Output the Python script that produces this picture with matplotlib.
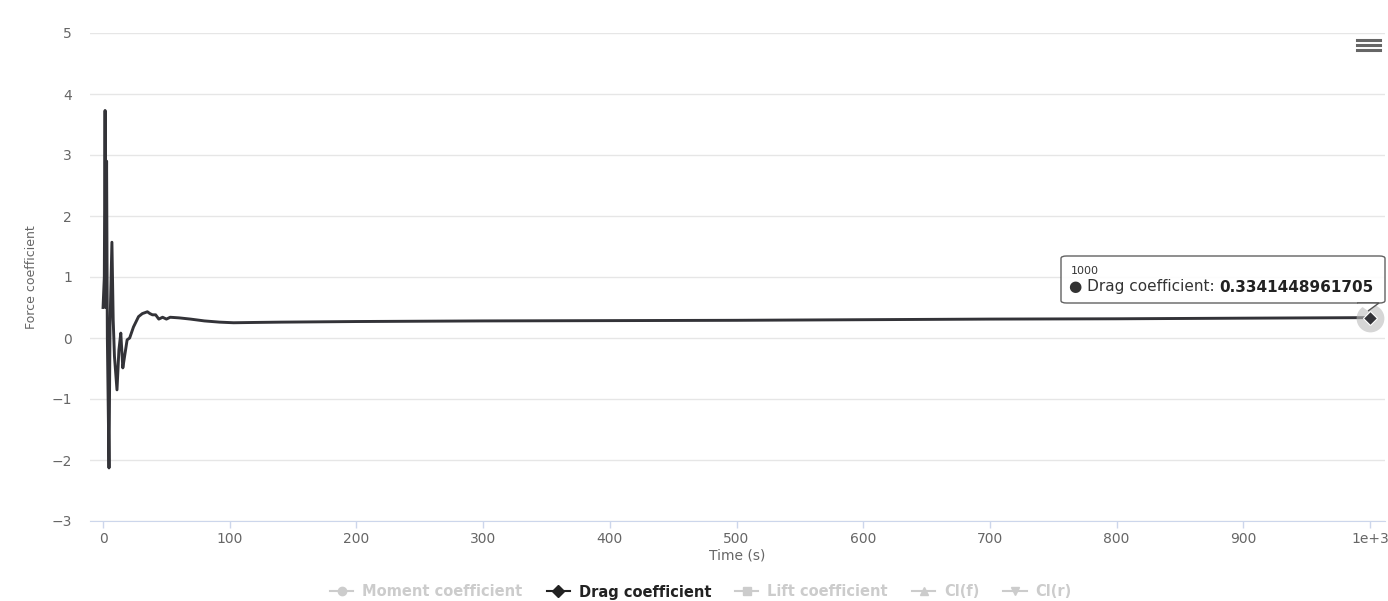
import matplotlib.pyplot as plt
import matplotlib.patches as mpatches
from matplotlib.lines import Line2D
from matplotlib.text import Annotation

# drag coefficient history
time = [0, 1, 1.6, 2.2, 2.8, 3.4, 4.7, 5.5, 7, 8, 9, 11, 12.5, 14, 15.6, 17,
        19, 21, 24, 28, 31, 35, 37, 39, 41.5, 44, 47, 50, 53, 60, 69, 80, 92,
        103, 120, 140, 200, 300, 400, 500, 600, 700, 800, 900, 1000]
drag = [0.5, 1.0, 3.73, 0.5, 2.9, 0.0, -2.13, 0.2, 1.57, 0.3, -0.3, -0.85,
        -0.2, 0.08, -0.49, -0.3, -0.03, 0.0, 0.18, 0.35, 0.40, 0.43, 0.40,
        0.38, 0.38, 0.31, 0.34, 0.31, 0.34, 0.33, 0.31, 0.28, 0.26, 0.25,
        0.255, 0.26, 0.27, 0.28, 0.285, 0.29, 0.30, 0.31, 0.315, 0.325,
        0.3341448961705]

xticks = [0, 100, 200, 300, 400, 500, 600, 700, 800, 900, 1000]
xtick_labels = ['0', '100', '200', '300', '400', '500', '600', '700', '800',
                '900', '1e+3']
yticks = [-3, -2, -1, 0, 1, 2, 3, 4, 5]

series_names = ['Moment coefficient', 'Drag coefficient', 'Lift coefficient',
                'Cl(f)', 'Cl(r)']
series_markers = ['o', 'D', 's', '^', 'v']
series_visible = [False, True, False, False, False]

line_col = '#333338'
grid_col = '#e6e6e6'
axis_col = '#ccd6eb'
label_col = '#666666'

plt.rcParams['font.family'] = ['DejaVu Sans']

fig = plt.figure(figsize=(13.88, 6.01), dpi=100)
ax = fig.add_axes([90 / 1388, 1 - 521 / 601, 1295 / 1388, 488 / 601])

ax.plot(time, drag, color=line_col, lw=2.1, solid_joinstyle='round', zorder=3)
# hovered point
ax.plot(time[-1], drag[-1], 'o', ms=20, color='#bbbbbb', alpha=0.6,
        mec='none', zorder=4)
ax.plot(time[-1], drag[-1], 'D', ms=7, color=line_col, mec='white',
        mew=0.8, zorder=5)

ax.set_xlim(-10.3, 1011.8)
ax.set_ylim(-3, 5)
ax.set_yticks(yticks)
ax.set_yticklabels([str(v).replace('-', '\u2212') for v in yticks])
ax.set_xticks(xticks)
ax.set_xticklabels(xtick_labels)

ax.grid(axis='y', color=grid_col, lw=1)
ax.set_axisbelow(True)
for s in ['top', 'right', 'left']:
    ax.spines[s].set_visible(False)
ax.spines['bottom'].set_color(axis_col)
ax.spines['bottom'].set_zorder(2)
ax.tick_params(axis='x', colors=axis_col, length=5, width=1, pad=3,
               labelcolor=label_col, labelsize=10)
ax.tick_params(axis='y', length=0, pad=13, labelcolor=label_col,
               labelsize=10)

ax.set_xlabel('Time (s)', color=label_col, fontsize=10, labelpad=2)
fig.text(32 / 1388, 1 - 277 / 601, 'Force coefficient', rotation=90,
         color=label_col, fontsize=9, ha='center', va='center')

# legend
handles = []
for name, m, vis in zip(series_names, series_markers, series_visible):
    c = '#222222' if vis else '#cccccc'
    handles.append(Line2D([], [], color=c, marker=m, ms=6, lw=1.5))
leg = fig.legend(handles, series_names, loc='center', ncol=5,
                 bbox_to_anchor=(0.505, 1 - 592 / 601), frameon=False,
                 handlelength=1.6, columnspacing=1.65, handletextpad=0.6,
                 prop={'weight': 'bold', 'size': 10.5})
for txt, vis in zip(leg.get_texts(), series_visible):
    txt.set_color('#222222' if vis else '#cccccc')

# tooltip
box = mpatches.FancyBboxPatch((1061 / 1388, 1 - 303 / 601), 324 / 1388,
                              47 / 601,
                              boxstyle='round,pad=0,rounding_size=0.004',
                              transform=fig.transFigure, fc='white',
                              ec='#555555', lw=1.0, alpha=0.92, zorder=10)
fig.add_artist(box)
tri = mpatches.Polygon([(1357 / 1388, 1 - 303 / 601),
                        (1379 / 1388, 1 - 303 / 601),
                        (1368 / 1388, 1 - 311 / 601)],
                       closed=False, transform=fig.transFigure, fc='white',
                       ec='#555555', lw=1.0, zorder=10)
fig.add_artist(tri)
fig.text(1071 / 1388, 1 - 271 / 601, '1000', fontsize=8, color='#333333',
         va='center', zorder=11)
t1 = fig.text(1069 / 1388, 1 - 287 / 601, '\u25cf Drag coefficient: ',
              fontsize=11, color='#333333', va='center', zorder=11)
val = Annotation('0.3341448961705', xy=(1, 0.5), xycoords=t1,
                 va='center', ha='left', fontsize=11, fontweight='bold',
                 color='#222222', zorder=12)
fig.add_artist(val)

# menu icon
for yy in [40, 45, 50]:
    fig.add_artist(Line2D([1357 / 1388, 1380 / 1388],
                          [1 - yy / 601, 1 - yy / 601],
                          transform=fig.transFigure, color='#666666', lw=2.2))

fig.savefig('out.png', dpi=100, facecolor='white')
